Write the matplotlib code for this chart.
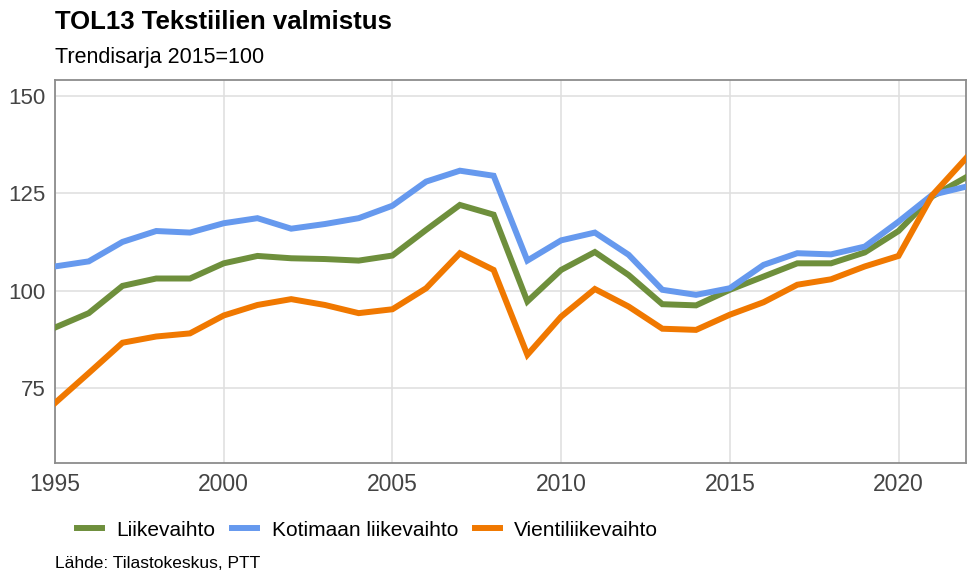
import matplotlib.pyplot as plt
from matplotlib.lines import Line2D

plt.rcParams['font.family'] = ['Liberation Sans', 'DejaVu Sans']

# Data
vuodet = list(range(1995, 2023))
liikevaihto = [90.5, 94.2, 101.2, 103.1, 103.1, 107.0, 108.9, 108.3, 108.1, 107.7,
               109.0, 115.6, 122.0, 119.5, 97.2, 105.3, 109.9, 104.0, 96.5, 96.2,
               100.2, 103.6, 107.0, 107.0, 109.8, 115.3, 124.2, 129.1]
kotimaa = [106.2, 107.5, 112.5, 115.3, 114.9, 117.3, 118.6, 115.9, 117.1, 118.6,
           121.8, 128.0, 130.8, 129.5, 107.7, 112.9, 114.9, 109.2, 100.2, 98.9,
           100.6, 106.6, 109.6, 109.3, 111.3, 117.7, 124.6, 126.7]
vienti = [71.1, 78.8, 86.6, 88.2, 89.0, 93.6, 96.3, 97.8, 96.3, 94.2,
          95.2, 100.6, 109.6, 105.3, 83.5, 93.3, 100.4, 95.9, 90.2, 89.9,
          93.8, 97.0, 101.5, 102.9, 106.2, 108.9, 124.5, 134.0]

sarjat = ['Liikevaihto', 'Kotimaan liikevaihto', 'Vientiliikevaihto']
varit = ['#6e8f3c', '#6699ee', '#f07800']
xtikit = [1995, 2000, 2005, 2010, 2015, 2020]
ytikit = [75, 100, 125, 150]

fig = plt.figure(figsize=(9.69, 5.71), dpi=100)
ax = fig.add_axes([55 / 969, 108 / 571, 911 / 969, 383 / 571])

for arvot, vari in zip([liikevaihto, kotimaa, vienti], varit):
    ax.plot(vuodet, arvot, color=vari, linewidth=4.3, solid_joinstyle='miter', zorder=3)

ax.set_xlim(1995, 2022)
ax.set_ylim(55.7, 154.1)
ax.set_xticks(xtikit)
ax.set_yticks(ytikit)
ax.grid(True, color='#e0e0e0', linewidth=1.2)
ax.tick_params(length=0, labelcolor='#444444')
ax.tick_params(axis='x', pad=7, labelsize=16.5)
ax.tick_params(axis='y', pad=7, labelsize=16)
for s in ax.spines.values():
    s.set_color('#8c8c8c')
    s.set_linewidth(1.3)

fig.text(55 / 969, 1 - 22 / 571, 'TOL13 Tekstiilien valmistus', fontsize=18.5,
         fontweight='bold', va='center', ha='left')
fig.text(55 / 969, 1 - 57 / 571, 'Trendisarja 2015=100', fontsize=15.5,
         va='center', ha='left')

kahvat = [Line2D([0], [0], color=v, linewidth=4.3) for v in varit]
fig.legend(kahvat, sarjat, loc='center left', bbox_to_anchor=(58 / 969, 1 - 530 / 571),
           ncol=3, frameon=False, fontsize=15, handlelength=1.2, handletextpad=0.7,
           columnspacing=0.8)

fig.text(55 / 969, 1 - 563 / 571, 'Lähde: Tilastokeskus, PTT', fontsize=12.5,
         va='center', ha='left')

fig.savefig('out.png', dpi=100)
